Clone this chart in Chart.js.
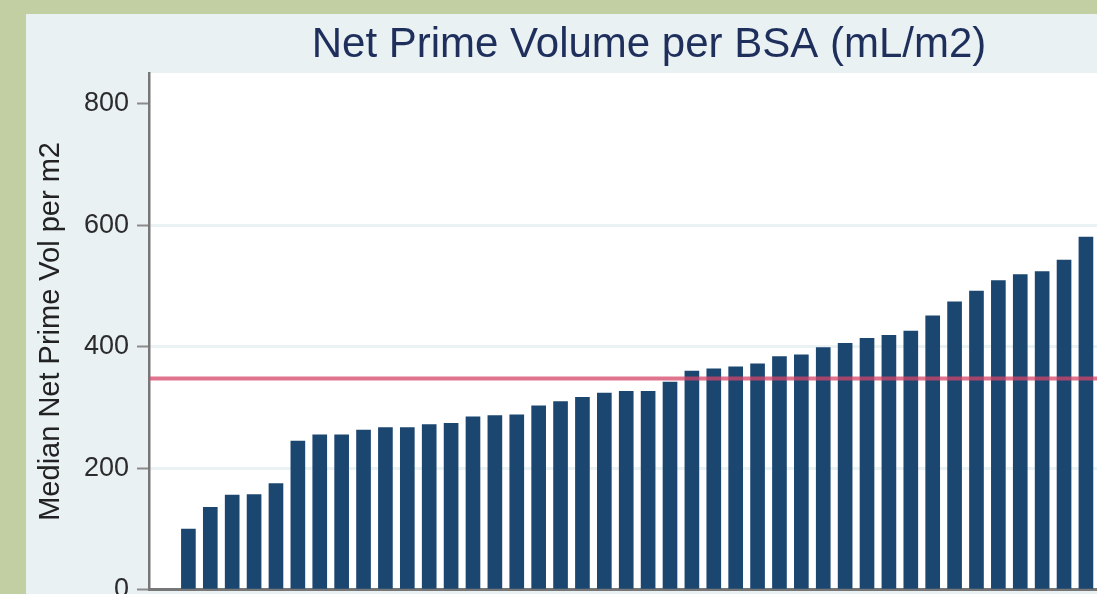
<!DOCTYPE html>
<html><head><meta charset="utf-8">
<script src="https://cdn.jsdelivr.net/npm/chart.js@4.4.1/dist/chart.umd.min.js"></script>
<style>
html,body{margin:0;padding:0;overflow:hidden;background:#c2cfa2;width:1097px;height:594px;}
#panel{position:absolute;left:26px;top:14px;width:1246px;height:600px;background:#e9f1f3;}
canvas{display:block;}
</style></head><body>
<div id="panel"><canvas id="c" width="1246" height="600"></canvas></div>
<script>
const chartTitle = 'Net Prime Volume per BSA (mL/m2)';
const yAxisTitle = 'Median Net Prime Vol per m2';
const categories = [1,2,3,4,5,6,7,8,9,10,11,12,13,14,15,16,17,18,19,20,21,22,23,24,25,26,27,28,29,30,31,32,33,34,35,36,37,38,39,40,41,42];
const medianValues = [100,136,156,157,175,245,255,255,263,267,267,272,274,285,287,288,303,310,317,324,327,327,342,360,364,367,372,384,387,399,406,414,419,426,451,474,492,509,519,524,543,581];
const referenceValue = 348;
const yTicks = [0,200,400,600,800];
const xMin = -0.8, xMax = 50.5, yMin = 0, yMax = 851;

const FONT = "'Liberation Sans', Arial, Helvetica, sans-serif";

const plotBg = {
  id: 'plotBg',
  beforeDraw(chart) {
    const {ctx, chartArea: a} = chart;
    ctx.save();
    ctx.fillStyle = '#ffffff';
    ctx.fillRect(a.left, a.top, a.right - a.left, a.bottom - a.top);
    ctx.restore();
  }
};

new Chart(document.getElementById('c'), {
  type: 'bar',
  data: {
    datasets: [
      {
        type: 'line',
        data: [{x: xMin, y: referenceValue}, {x: xMax, y: referenceValue}],
        borderColor: 'rgba(214,70,105,0.75)',
        borderWidth: 4,
        pointRadius: 0,
        order: 0
      },
      {
        type: 'bar',
        data: categories.map((c, i) => ({x: c, y: medianValues[i]})),
        backgroundColor: '#1b4670',
        borderWidth: 0,
        barThickness: 14,
        order: 1
      }
    ]
  },
  options: {
    responsive: false,
    animation: false,
    devicePixelRatio: 1,
    layout: {padding: 0},
    plugins: {
      legend: {display: false},
      tooltip: {enabled: false},
      title: {
        display: true,
        text: chartTitle,
        color: '#1f2f5c',
        font: {family: FONT, size: 42, weight: 'normal', lineHeight: 1.2},
        padding: {top: 6.6, bottom: 2}
      }
    },
    scales: {
      x: {
        type: 'linear',
        min: xMin,
        max: xMax,
        offset: false,
        grid: {display: false},
        ticks: {display: false},
        border: {display: true, color: '#777777', width: 3},
        afterFit(scale) { scale.height = 6; }
      },
      y: {
        min: yMin,
        max: yMax,
        afterBuildTicks(scale) { scale.ticks = yTicks.map(v => ({value: v})); },
        afterFit(scale) { scale.width = 123; },
        ticks: {
          color: '#2b2b2b',
          padding: 8,
          font: {family: FONT, size: 27}
        },
        grid: {
          color: (ctx) => (ctx.tick && ctx.tick.value > 0 && ctx.tick.value < 800) ? '#ebf2f3' : 'rgba(0,0,0,0)',
          lineWidth: 3,
          tickColor: '#8a8a8a',
          tickLength: 12,
          tickWidth: 2
        },
        border: {display: true, color: '#777777', width: 2.5},
        title: {
          display: true,
          text: yAxisTitle,
          color: '#222222',
          font: {family: FONT, size: 29, lineHeight: 1.2},
          padding: {top: 7.6, bottom: 0}
        }
      }
    }
  },
  plugins: [plotBg]
});
</script>
</body></html>
